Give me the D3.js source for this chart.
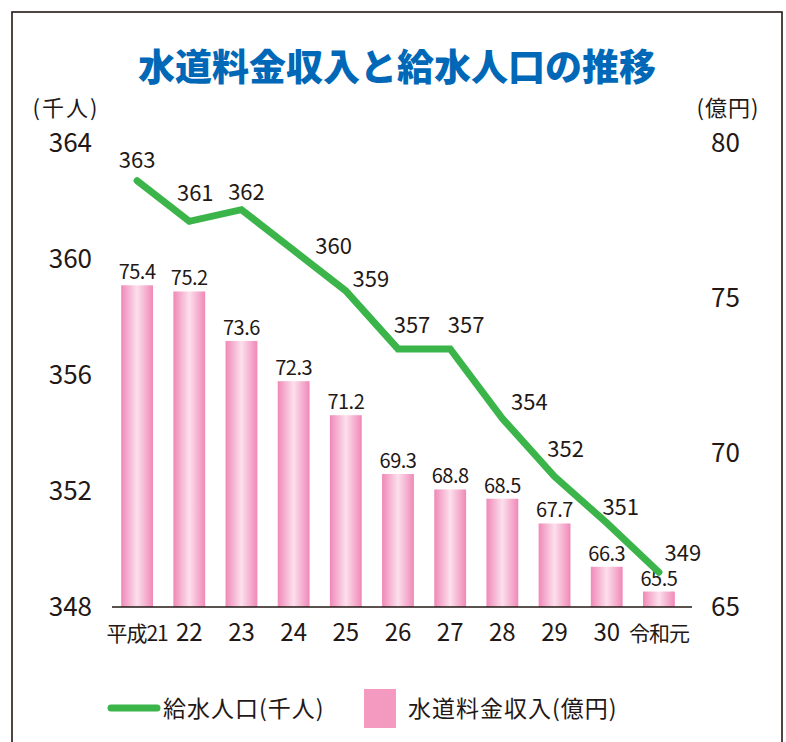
<!DOCTYPE html>
<html lang="ja">
<head>
<meta charset="utf-8">
<script src="https://cdn.jsdelivr.net/npm/d3@7"></script>
<style>
  html, body { margin: 0; padding: 0; background: #fff; }
  svg { display: block; }
</style>
</head>
<body>
<div id="chart"></div>
<script>
// 水道料金収入と給水人口の推移：棒（収入・右軸）＋折れ線（人口・左軸）
const years = ["平成21", "22", "23", "24", "25", "26", "27", "28", "29", "30", "令和元"];
const revenue = [75.4, 75.2, 73.6, 72.3, 71.2, 69.3, 68.8, 68.5, 67.7, 66.3, 65.5];      // 億円
const population = [362.7, 361.3, 361.7, 360.3, 358.9, 356.9, 356.9, 354.5, 352.5, 350.9, 349.2]; // 千人（線の位置）
const popLabels = ["363", "361", "362", "360", "359", "357", "357", "354", "352", "351", "349"];
const leftTicks = [348, 352, 356, 360, 364];
const rightTicks = [65, 70, 75, 80];

const W = 786, H = 742;
const FONT = `"Noto Sans CJK JP", "Noto Sans", sans-serif`;
const INK = "#231815", GREEN = "#3bb54a", BLUE = "#0068b7";

const svg = d3.select("#chart").append("svg")
  .attr("width", W).attr("height", H).attr("viewBox", `0 0 ${W} ${H}`);

const defs = svg.append("defs");
const grad = defs.append("linearGradient").attr("id", "barGrad")
  .attr("x1", "0%").attr("x2", "100%").attr("y1", "0%").attr("y2", "0%");
[[0, "#f088b8"], [0.5, "#fce0ec"], [1, "#f088b8"]].forEach(([o, c]) =>
  grad.append("stop").attr("offset", o).attr("stop-color", c));

// 枠
svg.append("rect")
  .attr("x", 12).attr("y", 12).attr("width", 770).attr("height", 760)
  .attr("fill", "none").attr("stroke", INK).attr("stroke-width", 1.6);

// タイトル
svg.append("text")
  .attr("x", 397).attr("y", 81).attr("text-anchor", "middle")
  .attr("style", `font:900 37px ${FONT};fill:${BLUE}`)
  .text("水道料金収入と給水人口の推移");

// スケール
const x = d3.scaleBand().domain(years).range([111, 685]).paddingInner(0.39).paddingOuter(0.195);
const yL = d3.scaleLinear().domain([348, 364]).range([607, 143]);
const yR = d3.scaleLinear().domain([65, 80]).range([607, 143]);

// 単位
svg.append("text").attr("x", 66).attr("y", 116).attr("text-anchor", "middle")
  .attr("style", `font:22px ${FONT};fill:${INK};letter-spacing:2px`).text("(千人)");
svg.append("text").attr("x", 728).attr("y", 116).attr("text-anchor", "middle")
  .attr("style", `font:22px ${FONT};fill:${INK};letter-spacing:1px`).text("(億円)");

// 左軸・右軸の目盛ラベル
svg.append("g").selectAll("text").data(leftTicks).join("text")
  .attr("x", 92).attr("y", d => yL(d)).attr("dy", "0.36em").attr("text-anchor", "end")
  .attr("style", `font:26px ${FONT};fill:${INK}`).text(d => d);
svg.append("g").selectAll("text").data(rightTicks).join("text")
  .attr("x", 711).attr("y", d => yR(d)).attr("dy", "0.36em").attr("text-anchor", "start")
  .attr("style", `font:26px ${FONT};fill:${INK}`).text(d => d);

// 棒
svg.append("g").selectAll("rect").data(revenue).join("rect")
  .attr("x", (d, i) => x(years[i])).attr("width", x.bandwidth())
  .attr("y", d => yR(d)).attr("height", d => yR(65) - yR(d))
  .attr("fill", "url(#barGrad)");
svg.append("g").selectAll("text").data(revenue).join("text")
  .attr("x", (d, i) => x(years[i]) + x.bandwidth() / 2).attr("y", d => yR(d) - 6)
  .attr("text-anchor", "middle")
  .attr("style", `font:20px ${FONT};fill:${INK};letter-spacing:-0.5px`)
  .text(d => d.toFixed(1));

// 基線
svg.append("line").attr("x1", 112).attr("x2", 692).attr("y1", 607).attr("y2", 607)
  .attr("stroke", INK).attr("stroke-width", 1.6);

// 横軸ラベル
svg.append("g").selectAll("text").data(years).join("text")
  .attr("x", d => x(d) + x.bandwidth() / 2).attr("y", 641).attr("text-anchor", "middle")
  .attr("style", d => `font:${d.length > 2 ? 21 : 24}px ${FONT};fill:${INK};letter-spacing:${d.length > 2 ? -1 : 0}px`)
  .text(d => d);

// 折れ線
const line = d3.line()
  .x((d, i) => x(years[i]) + x.bandwidth() / 2)
  .y(d => yL(d));
svg.append("path").datum(population)
  .attr("d", line).attr("fill", "none")
  .attr("stroke", GREEN).attr("stroke-width", 7)
  .attr("stroke-linecap", "round").attr("stroke-linejoin", "miter");

// 折れ線ラベル（点ごとの配置ずれ）
const labOff = [[0, -13], [6, -20], [5, -10], [40, 4], [25, -4], [14, -16], [16, -16], [27, -9], [11, -20], [14, -8], [24, -11]];
svg.append("g").selectAll("text").data(population).join("text")
  .attr("x", (d, i) => x(years[i]) + x.bandwidth() / 2 + labOff[i][0])
  .attr("y", (d, i) => yL(d) + labOff[i][1])
  .attr("text-anchor", "middle")
  .attr("style", `font:22px ${FONT};fill:${INK}`)
  .text((d, i) => popLabels[i]);

// 凡例
svg.append("line").attr("x1", 111).attr("x2", 157).attr("y1", 708).attr("y2", 708)
  .attr("stroke", GREEN).attr("stroke-width", 7).attr("stroke-linecap", "round");
svg.append("text").attr("x", 163).attr("y", 717)
  .attr("style", `font:23px ${FONT};fill:${INK};letter-spacing:1px`).text("給水人口(千人)");
svg.append("rect").attr("x", 364).attr("y", 689).attr("width", 32).attr("height", 39)
  .attr("fill", "#f49ac1");
svg.append("text").attr("x", 408).attr("y", 717)
  .attr("style", `font:23px ${FONT};fill:${INK};letter-spacing:1px`).text("水道料金収入(億円)");
</script>
</body>
</html>
